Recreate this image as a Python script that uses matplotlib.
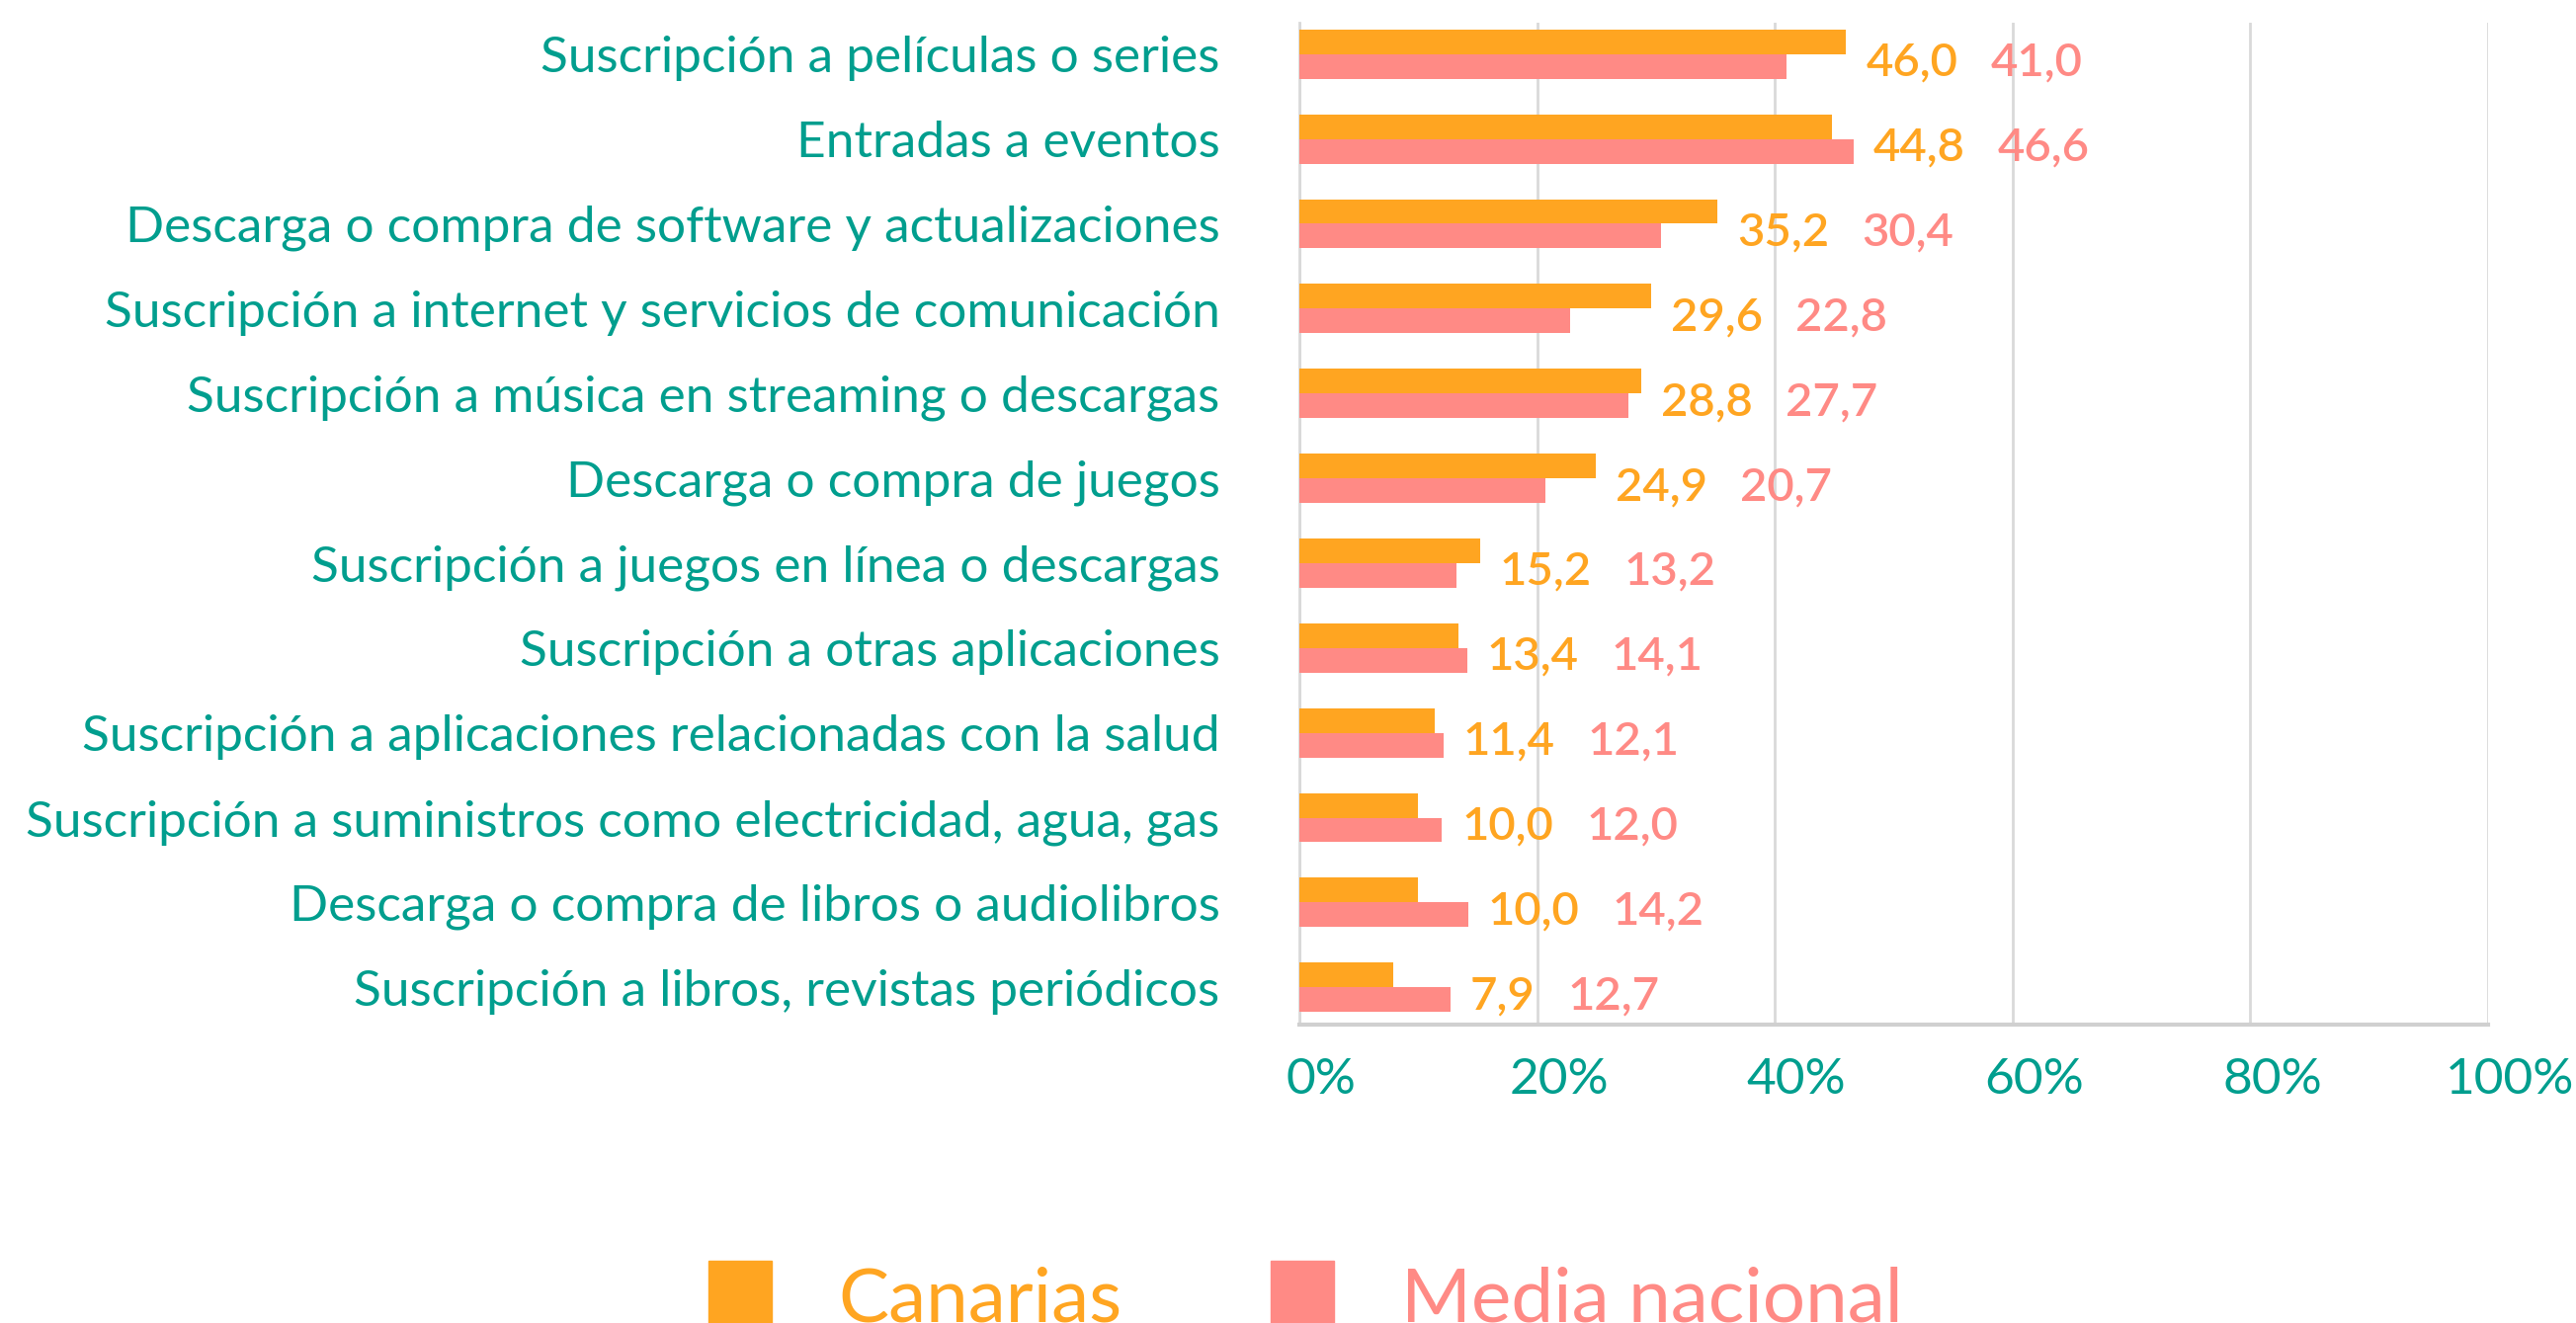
import matplotlib
matplotlib.use("Agg")
import matplotlib.pyplot as plt
from matplotlib.patches import Rectangle
from matplotlib.transforms import ScaledTranslation

# ── Data ───────────────────────────────────────────────────────────────────────
categories = [
    "Suscripción a películas o series",
    "Entradas a eventos",
    "Descarga o compra de software y actualizaciones",
    "Suscripción a internet y servicios de comunicación",
    "Suscripción a música en streaming o descargas",
    "Descarga o compra de juegos",
    "Suscripción a juegos en línea o descargas",
    "Suscripción a otras aplicaciones",
    "Suscripción a aplicaciones relacionadas con la salud",
    "Suscripción a suministros como electricidad, agua, gas",
    "Descarga o compra de libros o audiolibros",
    "Suscripción a libros, revistas periódicos",
]
canarias = [46.0, 44.8, 35.2, 29.6, 28.8, 24.9, 15.2, 13.4, 11.4, 10.0, 10.0, 7.9]
nacional = [41.0, 46.6, 30.4, 22.8, 27.7, 20.7, 13.2, 14.1, 12.1, 12.0, 14.2, 12.7]
series_names = ["Canarias", "Media nacional"]
xticks = [0, 20, 40, 60, 80, 100]

# ── Style ──────────────────────────────────────────────────────────────────────
ORANGE = "#FFA521"
PINK   = "#FF8A85"
TEAL   = "#009E8E"
GRID   = "#D9D9D9"
FONT   = "Lato"

W, H = 2607, 1339
fig = plt.figure(figsize=(W / 100, H / 100), dpi=100, facecolor="white")
ax = fig.add_axes([1315 / W, 1 - 1037 / H, (2518 - 1315) / W, (1037 - 23) / H])

y = list(range(len(categories)))
bh = 0.29
ax.barh([v - bh / 2 for v in y], canarias, height=bh, color=ORANGE, zorder=3)
ax.barh([v + bh / 2 for v in y], nacional, height=bh, color=PINK, zorder=3)

ax.set_xlim(0, 100)
ax.set_ylim(11.44, -0.37)
ax.set_xticks(xticks)
ax.set_xticklabels([f"{t}%" for t in xticks])
ax.set_yticks(y)
ax.set_yticklabels(categories)
ax.tick_params(axis="both", length=0, colors=TEAL)
ax.tick_params(axis="y", pad=58, labelsize=37)
ax.tick_params(axis="x", pad=24, labelsize=37)
shift = ScaledTranslation(0.22, 0, fig.dpi_scale_trans)
for lab in ax.get_xticklabels():
    lab.set_fontfamily(FONT)
    lab.set_transform(lab.get_transform() + shift)
for lab in ax.get_yticklabels():
    lab.set_fontfamily(FONT)
ax.xaxis.grid(True, color=GRID, linewidth=2, zorder=0)
ax.set_axisbelow(True)
for s in ["top", "right"]:
    ax.spines[s].set_visible(False)
ax.spines["left"].set_color(GRID)
ax.spines["left"].set_linewidth(2)
ax.spines["bottom"].set_color("#D0D0D0")
ax.spines["bottom"].set_linewidth(3)

# value labels: orange after the longer bar, pink after the orange label
for i, (c, n) in enumerate(zip(canarias, nacional)):
    a1 = ax.annotate(f"{c:.1f}".replace(".", ","), xy=(max(c, n), i), xytext=(20, -9),
                     textcoords="offset pixels", ha="left", va="center",
                     color=ORANGE, fontsize=34, fontfamily=FONT, fontweight="semibold")
    ax.annotate(f"{n:.1f}".replace(".", ","), xy=(1, 0.5), xycoords=a1, xytext=(33, 0),
                textcoords="offset pixels", ha="left", va="center",
                color=PINK, fontsize=34, fontfamily=FONT, fontweight="semibold")

# legend, cut off at the bottom edge like the original
for x0, x1, col, name in [(717, 848, ORANGE, series_names[0]), (1286, 1418, PINK, series_names[1])]:
    fig.patches.append(Rectangle((x0 / W, 0), 64 / W, 63 / H, transform=fig.transFigure,
                                 color=col, zorder=5))
    fig.text(x1 / W, 2 / H, name, color=col, fontsize=55, fontfamily=FONT,
             ha="left", va="baseline")

fig.savefig("out.png", dpi=100, facecolor="white")
